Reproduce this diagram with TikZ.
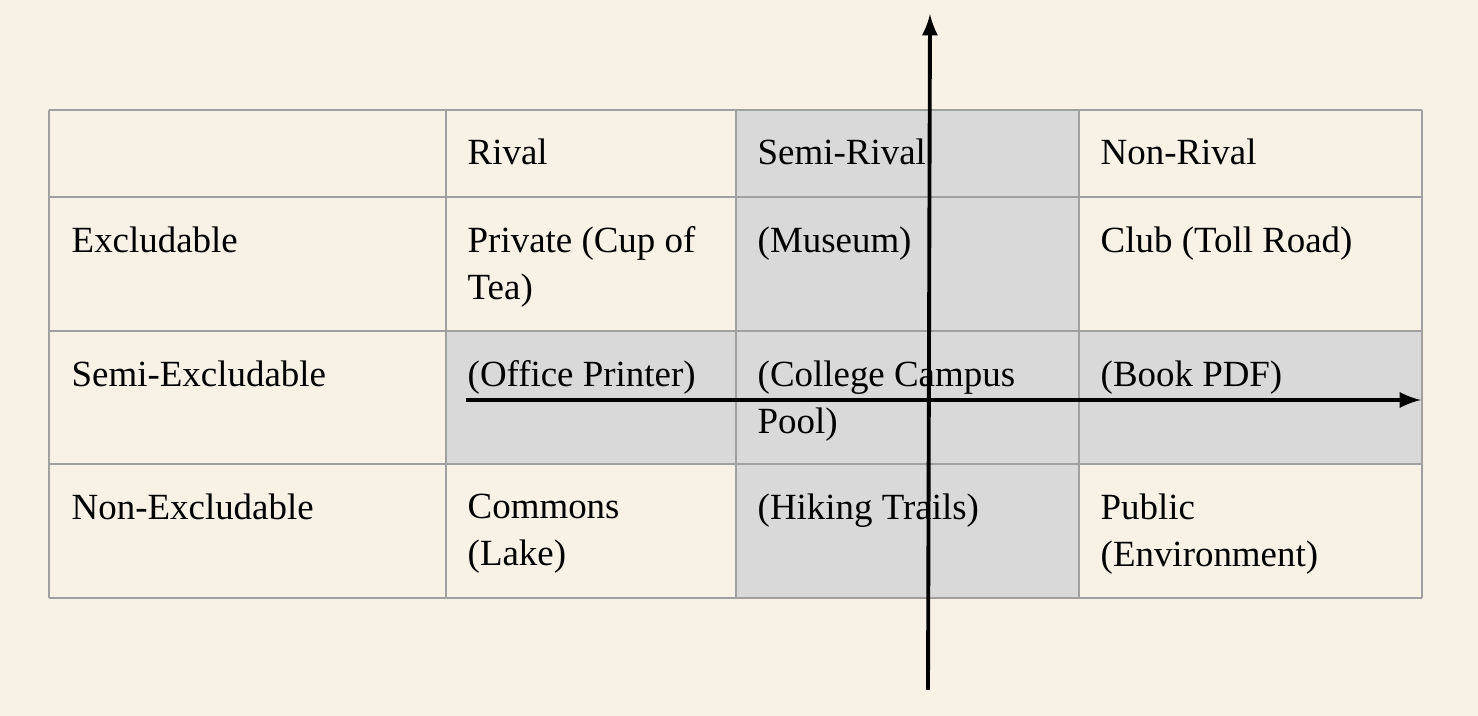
\documentclass[tikz,border=0pt]{standalone}
\usepackage{fontspec}
\setmainfont{Liberation Serif}
\definecolor{paper}{HTML}{F8F1E6}
\definecolor{cellgray}{HTML}{D9D9D9}
\definecolor{rulegray}{HTML}{A0A0A0}
\tikzset{
  celltext/.style={anchor=north west, inner sep=0pt, align=left, font=\fontsize{10.5}{13.4}\selectfont},
  axis/.style={-latex, line width=1.1pt}
}
\begin{document}
\begin{tikzpicture}[x=0.01cm, y=-0.01cm]
  \fill[paper] (0,0) rectangle (1478,716);
  \useasboundingbox (0,0) rectangle (1478,716);

  % shaded cells
  \fill[cellgray] (736,110) rectangle (1079,598);
  \fill[cellgray] (446,331) rectangle (1422,464);

  % grid
  \foreach \x in {49,446,736,1079,1422}
    \draw[rulegray, line width=0.7pt] (\x,110) -- (\x,598);
  \foreach \y in {110,197,331,464,598}
    \draw[rulegray, line width=0.7pt] (49,\y) -- (1422,\y);

  % headers
  \node[celltext] (rival) at (467,138) {Rival};
  \node[celltext] (semirival) at (757,138) {Semi-Rival};
  \node[celltext] (nonrival) at (1100,138) {Non-Rival};

  \node[celltext] (excl) at (71,226) {Excludable};
  \node[celltext] (semiexcl) at (71,360) {Semi-Excludable};
  \node[celltext] (nonexcl) at (71,493) {Non-Excludable};

  % cells
  \node[celltext] (private) at (467,226) {Private (Cup of\\Tea)};
  \node[celltext] (museum) at (757,226) {(Museum)};
  \node[celltext] (club) at (1100,226) {Club (Toll Road)};
  \node[celltext] (printer) at (467,360) {(Office Printer)};
  \node[celltext] (pool) at (757,360) {(College Campus\\Pool)};
  \node[celltext] (pdf) at (1100,360) {(Book PDF)};
  \node[celltext] (commons) at (467,493) {Commons\\(Lake)};
  \node[celltext] (trails) at (757,493) {(Hiking Trails)};
  \node[celltext] (public) at (1100,493) {Public\\(Environment)};

  % axes
  \coordinate (ybot) at (928,690);
  \coordinate (ytop) at (930,14);
  \coordinate (xleft) at (466,400);
  \coordinate (xright) at (1421,400);
  \draw[axis] (ybot) -- (ytop);
  \draw[axis] (xleft) -- (xright);
\end{tikzpicture}
\end{document}
